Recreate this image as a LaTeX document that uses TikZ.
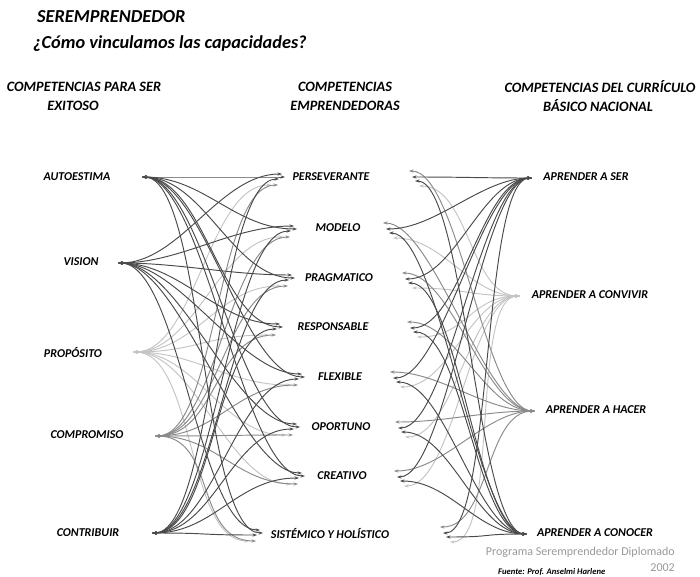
\documentclass[tikz,border=0pt]{standalone}
\usepackage{fontspec}
\setmainfont{Carlito}
\usetikzlibrary{arrows.meta}
\definecolor{dk}{HTML}{4A4A4A}
\definecolor{md}{HTML}{8A8A8A}
\definecolor{lt}{HTML}{C4C4C4}
\definecolor{foot}{HTML}{999999}
\begin{document}
\begin{tikzpicture}[x=1pt,y=-1pt,
  ttl/.style={font=\bfseries\itshape\fontsize{18.3}{21}\selectfont, anchor=west, inner sep=0pt},
  hdr/.style={font=\bfseries\itshape\fontsize{14.3}{17}\selectfont, inner sep=0pt},
  lbl/.style={font=\bfseries\itshape\fontsize{12}{14}\selectfont, inner sep=0pt},
  edge/.style={line width=0.95pt, {Stealth[length=4.5pt,width=3.2pt]}-{Stealth[length=4.5pt,width=3.2pt]}}]
\useasboundingbox (0,0) rectangle (700,577);
% titles
\node[ttl] (t1) at (37,17) {SEREMPRENDEDOR};
\node[ttl] (t2) at (33,44) {¿Cómo vinculamos las capacidades?};
% headers
\node[hdr] (h1a) at (84,87) {COMPETENCIAS PARA SER};
\node[hdr] (h1b) at (73,106) {EXITOSO};
\node[hdr] (h2a) at (345,87) {COMPETENCIAS};
\node[hdr] (h2b) at (345,106) {EMPRENDEDORAS};
\node[hdr] (h3a) at (600,87) {COMPETENCIAS DEL CURRÍCULO};
\node[hdr] (h3b) at (598,106) {BÁSICO NACIONAL};
% left labels
\node[lbl] (autoestima) at (77,177) {AUTOESTIMA};
\node[lbl] (vision) at (81,262) {VISION};
\node[lbl] (proposito) at (73,352) {PROPÓSITO};
\node[lbl] (compromiso) at (87,435) {COMPROMISO};
\node[lbl] (contribuir) at (88,533) {CONTRIBUIR};
% middle labels
\node[lbl] (perseverante) at (331,177) {PERSEVERANTE};
\node[lbl] (modelo) at (338,228) {MODELO};
\node[lbl] (pragmatico) at (339,278) {PRAGMATICO};
\node[lbl] (responsable) at (333,327) {RESPONSABLE};
\node[lbl] (flexible) at (340,377) {FLEXIBLE};
\node[lbl] (oportuno) at (341,427) {OPORTUNO};
\node[lbl] (creativo) at (342,476) {CREATIVO};
\node[lbl] (sistemico) at (330,533) {SISTÉMICO Y HOLÍSTICO};
% right labels
\node[lbl] (ser) at (586,177) {APRENDER A SER};
\node[lbl] (convivir) at (590,295) {APRENDER A CONVIVIR};
\node[lbl] (hacer) at (596,410) {APRENDER A HACER};
\node[lbl] (conocer) at (595,533) {APRENDER A CONOCER};
% footer
\node[font=\fontsize{12}{14}\selectfont, text=foot, anchor=east, inner sep=0pt] (prog) at (675,552) {Programa Seremprendedor Diplomado};
\node[font=\fontsize{12}{14}\selectfont, text=foot, anchor=east, inner sep=0pt] (year) at (675,568) {2002};
\node[font=\bfseries\itshape\fontsize{8.6}{10}\selectfont, anchor=west, inner sep=0pt] (fuente) at (498,572) {Fuente: Prof. Anselmi Harlene};
% anchor points
\coordinate (sa) at (142,177);
\coordinate (sv) at (118,263);
\coordinate (sp) at (133,352);
\coordinate (sc) at (155,436);
\coordinate (st) at (152,533);
\coordinate (ml1) at (285,177);
\coordinate (ml2) at (297,229);
\coordinate (ml3) at (295,278);
\coordinate (ml4) at (283,327);
\coordinate (ml5) at (305,377);
\coordinate (ml6) at (300,427);
\coordinate (ml7) at (305,476);
\coordinate (ml8) at (263,533);
\coordinate (mr1) at (412,177);
\coordinate (mr2) at (386,229);
\coordinate (mr3) at (405,279);
\coordinate (mr4) at (410,328);
\coordinate (mr5) at (393,378);
\coordinate (mr6) at (398,428);
\coordinate (mr7) at (397,477);
\coordinate (mr8) at (443,533);
\coordinate (r1) at (532,178);
\coordinate (r2) at (520,296);
\coordinate (r3) at (535,411);
\coordinate (r4) at (527,534);
% left web
\foreach \s/\c/\ox/\oy in {sp/lt/-14/8, sc/md/-7/8, sa/dk/0/0, sv/dk/-3/-3, st/dk/-6/2}
  \foreach \t in {1,...,8}
    \draw[edge,\c] (\s) .. controls +(62,0) and +(-62,0) .. ([shift={(\ox,\oy)}]ml\t);
% right web
\foreach \r/\c/\ox/\oy in {r2/lt/7/9, r3/md/-3/-6, r1/dk/0/0, r4/dk/3/4}
  \foreach \m in {1,...,8}
    \draw[edge,\c] ([shift={(\ox,\oy)}]mr\m) .. controls +(50,0) and +(-50,0) .. (\r);
\end{tikzpicture}
\end{document}
